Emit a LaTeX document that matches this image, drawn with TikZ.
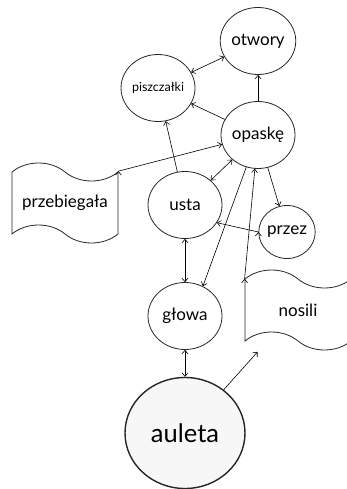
\documentclass[tikz,border=0pt]{standalone}
\usepackage{fontspec}
\setmainfont{Lato}
\usetikzlibrary{shapes.geometric,shapes.symbols,arrows.meta,calc}

\begin{document}
\begin{tikzpicture}[x=1pt,y=-1pt,>={Straight Barb[length=3.5pt,width=6pt]}]
  \tikzstyle{idea}=[ellipse,draw=black!85,line width=0.8pt,fill=white,minimum width=74pt,minimum height=67pt,inner sep=0pt,font=\fontsize{17}{20}\selectfont]
  \tikzstyle{flag}=[tape,draw=black!85,line width=0.8pt,fill=white,minimum width=106pt,minimum height=80pt,tape bend top=out and in,tape bend bottom=out and in,tape bend height=18pt,inner sep=0pt,font=\fontsize{17}{20}\selectfont]
  \tikzstyle{edge}=[draw, line width=0.6pt, ->]
  \tikzstyle{both}=[draw, line width=0.6pt, <->]
  \useasboundingbox (0,0) rectangle (346,489);
  % the mind map
  \node [idea] (otwory) at (258,41) {otwory};
  \node [idea,font=\fontsize{12.5}{15}\selectfont] (piszczalki) at (158,88) {piszczałki};
  \node [idea] (opaske) at (258,135) {opaskę};
  \node [idea] (usta) at (185,205) {usta};
  \node [idea,minimum width=56pt,minimum height=53pt] (przez) at (287,232) {przez};
  \node [idea] (glowa) at (185,316) {głowa};
  \node [idea,line width=1.4pt,fill=black!3,minimum width=120pt,minimum height=111pt,font=\fontsize{25.5}{30}\selectfont] (auleta) at (185,433) {auleta};
  \node [flag] (przebiegala) at (65,203) {przebiegała};
  \node [flag] (nosili) at (298,310) {nosili};
  \path[both] (piszczalki) edge (otwory);
  \path[edge] (opaske) edge (otwory);
  \path[edge] (opaske) edge (piszczalki);
  \path[edge] (przebiegala.north east) edge (opaske);
  \path[edge] (usta) edge (piszczalki);
  \path[both] (usta) edge (opaske);
  \path[edge] (opaske) edge (przez);
  \path[edge] (przez.west) edge (usta.-29);
  \path[edge] (opaske) edge (glowa.59);
  \path[edge] (nosili.north west) edge (opaske);
  \path[both] (usta) edge (glowa);
  \path[both] (glowa) edge (auleta);
  \path[edge] (auleta) edge ($(nosili.south west)+(13,10)$);
\end{tikzpicture}
\end{document}
